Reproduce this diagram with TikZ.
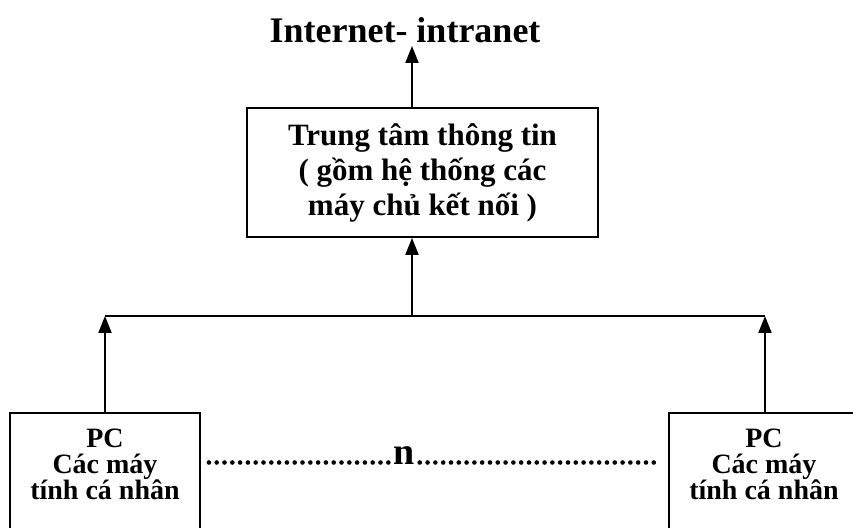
\documentclass[tikz,border=0pt]{standalone}
\usepackage{fontspec}
\setmainfont{Liberation Serif}
\usetikzlibrary{arrows.meta,positioning}
\setlength{\lineskiplimit}{-100pt}
\setlength{\lineskip}{0pt}

\begin{document}
\begin{tikzpicture}[
  x=1pt,y=1pt,
  box/.style={draw,line width=1.8pt,align=center,font=\bfseries},
  pcbox/.style={box,anchor=north,minimum width=190pt,inner ysep=16pt,text depth=60pt,
                font=\bfseries\fontsize{28}{26}\selectfont},
  wire/.style={line width=2pt},
  arrow/.style={wire,-{Triangle[length=17pt,width=13pt]}},
  dots/.style={line width=4.6pt,line cap=round,dash pattern=on 0pt off 7.8pt},
]
\useasboundingbox (0,0) rectangle (853,527);
\clip (0,0) rectangle (853,527);

% Network
\node[anchor=base,font=\bfseries\fontsize{36}{40}\selectfont] (net) at (405,484)
  {Internet- intranet};

% Information centre
\node[box,minimum width=351pt,minimum height=129pt,
      font=\bfseries\fontsize{31}{35}\selectfont] (center) at (422.5,354.5)
  {Trung tâm thông tin\\( gồm hệ thống các\\máy chủ kết nối )};

% Personal computers
\node[pcbox] (pcL) at (105,115) {PC\\Các máy\\tính cá nhân};
\node[pcbox] (pcR) at (764,115) {PC\\Các máy\\tính cá nhân};
\node[anchor=base,font=\bfseries\fontsize{38}{40}\selectfont,inner sep=1pt] (n) at (404,62) {n};

% Bus
\coordinate (busL) at (105,211);
\coordinate (busM) at (412,211);
\coordinate (busR) at (765,211);
\coordinate (netIn) at (412,481);

\draw[wire] (busL) -- (busR);
\draw[arrow] (pcL.north -| busL) -- (busL);
\draw[arrow] (pcR.north -| busR) -- (busR);
\draw[arrow] (busM) -- (center.south -| busM);
\draw[arrow] (center.north -| busM) -- (netIn);

% n computers
\path (pcL.east |- n.base) ++(8,2.5) coordinate (dotL);
\path (pcR.west |- n.base) ++(-10,2.5) coordinate (dotR);
\draw[dots] (dotL) -- ([shift={(-3,2.5)}]n.base west);
\draw[dots] ([shift={(4,2.5)}]n.base east) -- (dotR);
\end{tikzpicture}
\end{document}
